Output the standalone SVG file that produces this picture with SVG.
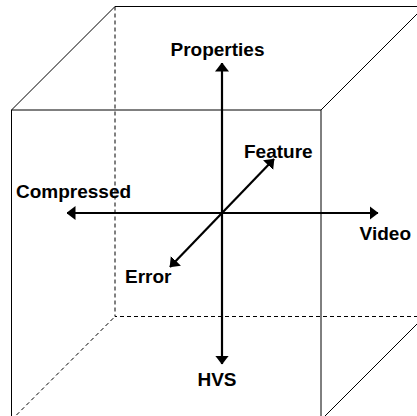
<svg xmlns="http://www.w3.org/2000/svg" width="417" height="416" viewBox="0 0 417 416">
  <style>
    .edge { fill: none; stroke: #000; stroke-width: 1; }
    .hidden { fill: none; stroke: #000; stroke-width: 1; stroke-dasharray: 4 3; }
    .axis { fill: none; stroke: #000; stroke-width: 2.2; }
    .label { font-family: "Liberation Sans", Arial, sans-serif; font-weight: bold; font-size: 19px; fill: #000; }
  </style>
  <defs>
    <marker id="head" viewBox="0 0 9 14" refX="8.5" refY="7" markerWidth="9" markerHeight="14" markerUnits="userSpaceOnUse" orient="auto">
      <path d="M0,0 L9,7 L0,14 Z" fill="#000"/>
    </marker>
  </defs>
  <rect width="417" height="416" fill="#fff"/>

  <!-- cube outline -->
  <g id="cube">
    <!-- hidden back edges -->
    <path class="hidden" d="M115,6.5 V316.5 H417"/>
    <path class="hidden" d="M11.5,420 L115,316.5"/>
    <!-- visible edges -->
    <path class="edge" d="M11.5,420 V110 H321 V420"/>
    <path class="edge" d="M11.5,110 L115,6.5 H424.5"/>
    <path class="edge" d="M321,110 L424.5,6.5"/>
    <path class="edge" d="M321,420 L424.5,316.5"/>
  </g>

  <!-- axes -->
  <g id="connectors">
    <line class="axis" x1="222" y1="213" x2="222" y2="63" marker-end="url(#head)"/>
    <line class="axis" x1="222" y1="213" x2="222" y2="364" marker-end="url(#head)"/>
    <line class="axis" x1="222" y1="213" x2="67" y2="213" marker-end="url(#head)"/>
    <line class="axis" x1="222" y1="213" x2="378" y2="213" marker-end="url(#head)"/>
    <line class="axis" x1="222" y1="213" x2="274" y2="159" marker-end="url(#head)"/>
    <line class="axis" x1="222" y1="213" x2="170" y2="267" marker-end="url(#head)"/>
  </g>

  <g id="properties"><text class="label" x="217.5" y="55.5" text-anchor="middle">Properties</text></g>
  <g id="compressed"><text class="label" x="16" y="198">Compressed</text></g>
  <g id="feature"><text class="label" x="244" y="158">Feature</text></g>
  <g id="video"><text class="label" x="411" y="240" text-anchor="end">Video</text></g>
  <g id="error"><text class="label" x="125" y="283">Error</text></g>
  <g id="hvs"><text class="label" x="217" y="386" text-anchor="middle">HVS</text></g>
</svg>
